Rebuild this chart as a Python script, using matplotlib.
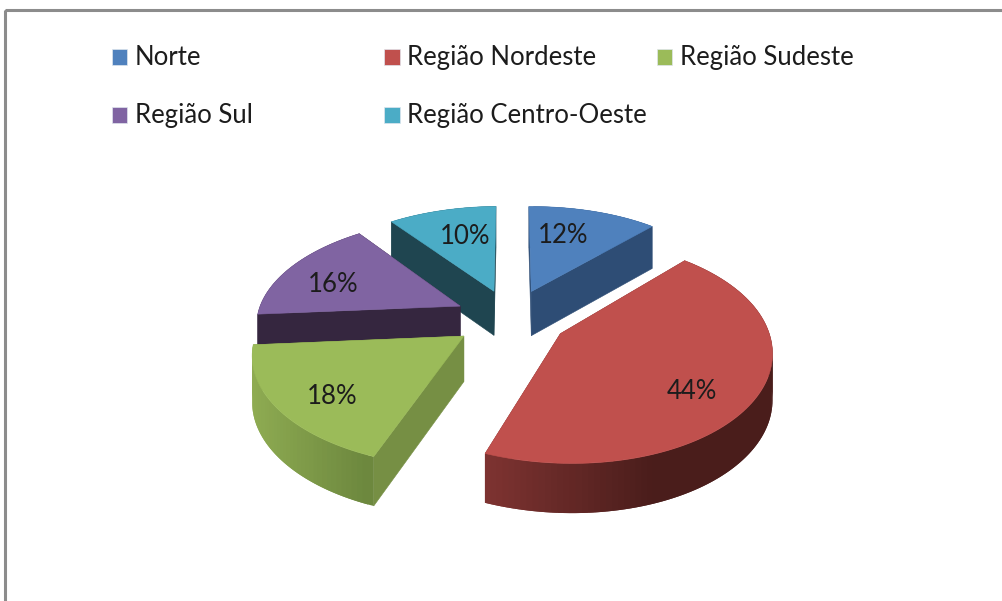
import numpy as np
import matplotlib
matplotlib.use("Agg")
import matplotlib.pyplot as plt
from matplotlib.patches import Polygon, Rectangle
from matplotlib.collections import PolyCollection

categories = ["Norte", "Região Nordeste", "Região Sudeste", "Região Sul", "Região Centro-Oeste"]
values = [12, 44, 18, 16, 10]

top_colors = ["#4F81BD", "#C0504D", "#9BBB59", "#8064A2", "#4BACC6"]
wall_colors = ["#2E4D75", "#7A302E", "#768F44", "#35263F", "#1F4550"]
rim_left = ["#2E4D75", "#803432", "#8FAC52", "#35263F", "#1F4550"]
rim_right = ["#2E4D75", "#4A1D1B", "#6C873E", "#35263F", "#1F4550"]
rim_span = [1.0, 0.6, 1.0, 1.0, 1.0]

plt.rcParams["font.family"] = ["Lato", "DejaVu Sans"]
FS = 18.5
TXT = "#1c1c1c"

CX, CY = 511.0, 318.0
A, B = 204.0, 105.0
KX, KY = 0.14, 0.15
DEPTH = 45.0
EXPLODE = 0.28
TILT = 0.008
FRONT_SHIFT = 5.0


def project(x, y, z=0.0):
    x, y = np.asarray(x, float), np.asarray(y, float)
    wx = 1.0 / (1.0 - KX * y)
    wy = 1.0 / (1.0 - KY * y)
    X = CX + A * x * wx + FRONT_SHIFT * np.clip(y, 0, None) ** 2
    Y = CY + B * y * wy - TILT * (X - CX)
    return X, Y + DEPTH * z * (1 + (wy - 1) * 0.5)


def unit(theta):
    return np.sin(theta), -np.cos(theta)


fig = plt.figure(figsize=(10.03, 6.01), dpi=100)
ax = fig.add_axes([0, 0, 1, 1])
ax.set_xlim(0, 1003)
ax.set_ylim(601, 0)
ax.axis("off")

ax.add_patch(Rectangle((5, 10), 1100, 700, fill=False, ec="#8c8c8c", lw=2.2, zorder=1))

fractions = np.array(values, float) / sum(values)
edges = np.concatenate([[0], np.cumsum(fractions)]) * 2 * np.pi
draw_order = [4, 0, 3, 1, 2]
label_nudge = {0: (-8, -4), 1: (14, 20), 2: (-20, 17), 3: (-20, 3), 4: (5, -2)}

z = 2
for i in draw_order:
    t0, t1 = edges[i], edges[i + 1]
    mid = (t0 + t1) / 2
    ex, ey = unit(mid)
    ax0, ay0 = EXPLODE * ex, EXPLODE * ey
    th = np.linspace(t0, t1, max(int((t1 - t0) * 40), 4))
    rx, ry = unit(th)
    px, py = ax0 + rx, ay0 + ry

    # radial walls
    for j in (0, -1):
        xs = np.array([ax0, px[j]])
        ys = np.array([ay0, py[j]])
        X0, Y0 = project(xs, ys, 0)
        X1, Y1 = project(xs, ys, 1)
        ax.add_patch(Polygon(np.column_stack([np.r_[X0, X1[::-1]], np.r_[Y0, Y1[::-1]]]),
                             fc=wall_colors[i], ec=wall_colors[i], lw=0.4, zorder=z))
    z += 1

    # outer wall as shaded strips, each overlapping the next so no seams show
    X0, Y0 = project(px, py, 0)
    X1, Y1 = project(px, py, 1)
    quads = []
    cols = []
    c_l = np.array(matplotlib.colors.to_rgb(rim_left[i]))
    c_r = np.array(matplotlib.colors.to_rgb(rim_right[i]))
    lo, hi = X0.min(), X0.max()
    for n in range(len(th) - 1):
        m = min(n + 2, len(th) - 1)
        seg = list(zip(X0[n:m + 1], Y0[n:m + 1])) + list(zip(X1[n:m + 1], Y1[n:m + 1]))[::-1]
        quads.append(seg)
        f = np.clip(((X0[n] + X0[n + 1]) / 2 - lo) / max(hi - lo, 1) / rim_span[i], 0, 1)
        cols.append(c_l + (c_r - c_l) * f)
    if X0[0] > X0[-1]:
        quads, cols = quads[::-1], cols[::-1]
    ax.add_collection(PolyCollection(quads, facecolors=cols, edgecolors="none", linewidths=0, zorder=z))
    z += 1

    # top face
    TX, TY = project(np.r_[ax0, px], np.r_[ay0, py], 0)
    ax.add_patch(Polygon(np.column_stack([TX, TY]), fc=top_colors[i], ec=top_colors[i], lw=0.4, zorder=z))
    z += 1

    lx, ly = project(ax0 + 0.62 * ex, ay0 + 0.62 * ey, 0)
    ax.text(lx + label_nudge[i][0], ly + label_nudge[i][1], f"{values[i]}%", ha="center", va="center",
            fontsize=FS, color=TXT, zorder=50)

# legend
for n, (name, col) in enumerate(zip(categories, top_colors)):
    c, r = n % 3, n // 3
    x = 112 + 272.5 * c
    y = 57 + 57.5 * r
    ax.add_patch(Rectangle((x, y - 8), 15.5, 16, fc=col, ec="#dfe6ee", lw=0.5, zorder=40))
    ax.text(x + 23, y + 8, name, ha="left", va="baseline", fontsize=FS, color=TXT, zorder=50)

fig.savefig("out.png", dpi=100)
